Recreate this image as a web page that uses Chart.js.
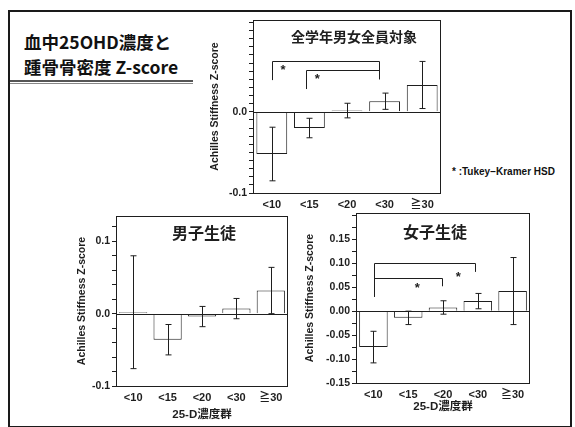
<!DOCTYPE html>
<html lang="ja">
<head>
<meta charset="utf-8">
<title>血中25OHD濃度と踵骨骨密度 Z-score</title>
<script src="https://cdn.jsdelivr.net/npm/chart.js@4.4.1/dist/chart.umd.min.js"></script>
<style>
  html, body { margin: 0; padding: 0; background: #fff; }
  body { position: relative; width: 575px; height: 427px; overflow: hidden; font-family: "Noto Sans CJK JP", sans-serif; color: #111; }
  #frame { position: absolute; left: 8px; top: 10px; width: 560px; height: 414px; border: 2px solid #1a1a1a; }
  #heading { position: absolute; left: 24px; top: 29px; font-size: 17.5px; font-weight: bold; line-height: 25px; white-space: nowrap; }
  #rule { position: absolute; left: 10px; top: 80px; width: 183px; height: 1px; border-top: 2px solid #555; border-bottom: 1px solid #888; }
  #note { position: absolute; left: 452px; top: 166px; font: bold 10px "Liberation Sans", Arial, sans-serif; white-space: nowrap; }
  canvas { position: absolute; }
</style>
</head>
<body>
<div id="frame"></div>
<div id="heading">血中25OHD濃度と<br>踵骨骨密度 Z-score</div>
<div id="rule"></div>
<div id="note">* :Tukey−Kramer HSD</div>
<canvas id="cAll" width="242" height="207" style="left:203px;top:8px"></canvas>
<canvas id="cBoy" width="226" height="219" style="left:66px;top:204px"></canvas>
<canvas id="cGirl" width="234" height="214" style="left:300px;top:201px"></canvas>
<script>
// 25-D concentration groups
const groups = ['<10', '<15', '<20', '<30', '≧30'];

// all students (mean, error bar half-length)
const allMean = [-0.052, -0.020, 0.0015, 0.013, 0.033];
const allErr = [0.033, 0.012, 0.009, 0.010, 0.029];
// boys
const boyMean = [0.002, -0.036, -0.004, 0.007, 0.032];
const boyErr = [0.078, 0.021, 0.014, 0.014, 0.032];
// girls
const girlMean = [-0.075, -0.014, 0.0077, 0.021, 0.042];
const girlErr = [0.033, 0.014, 0.014, 0.016, 0.070];

// labelled y ticks
const allTicks = [-0.1, 0.0];
const boyTicks = [-0.1, 0.0, 0.1];
const girlTicks = [-0.15, -0.10, -0.05, 0.00, 0.05, 0.10, 0.15];

// significance brackets: [from index, to index, bracket level, left end, right end]
const allBrackets = [[0, 2.85, 0.063, 0.039, 0.040], [0.9, 2.85, 0.051, 0.028, 0.040]];
const allStars = [[0.3, 0.054], [1.21, 0.044]];
const girlBrackets = [[0.02, 2.92, 0.100, 0.030, 0.082], [0.02, 1.96, 0.070, 0.030, 0.052]];
const girlStars = [[1.26, 0.054], [2.44, 0.077]];

const yTitle = 'Achilles Stiffness Z-score';
const xTitle = '25-D濃度群';

const ink = '#1e1e1e';
const latin = '"Liberation Sans", Arial, "Noto Sans CJK JP", sans-serif';

// frame, zero line, error bars, brackets, stars, inner title
const marks = {
    id: 'marks',
    afterDatasetsDraw(chart, args, o) {
        const { ctx, chartArea: a, scales: { x, y } } = chart;
        const means = chart.data.datasets[0].data;
        const seg = (x1, y1, x2, y2) => { ctx.beginPath(); ctx.moveTo(x1, y1); ctx.lineTo(x2, y2); ctx.stroke(); };
        ctx.save();
        ctx.strokeStyle = ink;
        ctx.lineWidth = 1;
        const y0 = Math.round(y.getPixelForValue(0)) + 0.5;
        seg(a.left, y0, a.right, y0);
        o.err.forEach((e, i) => {
            const px = Math.round(x.getPixelForValue(i)) + 0.5;
            const hi = y.getPixelForValue(means[i] + e), lo = y.getPixelForValue(means[i] - e);
            seg(px, hi, px, lo);
            seg(px - 3, hi, px + 3, hi);
            seg(px - 3, lo, px + 3, lo);
        });
        (o.brackets || []).forEach(([i1, i2, lvl, e1, e2]) => {
            const x1 = Math.round(x.getPixelForValue(i1)) + 0.5, x2 = Math.round(x.getPixelForValue(i2)) + 0.5;
            const yl = Math.round(y.getPixelForValue(lvl)) + 0.5;
            ctx.beginPath();
            ctx.moveTo(x1, y.getPixelForValue(e1));
            ctx.lineTo(x1, yl);
            ctx.lineTo(x2, yl);
            ctx.lineTo(x2, y.getPixelForValue(e2));
            ctx.stroke();
        });
        ctx.fillStyle = ink;
        ctx.textAlign = 'center';
        ctx.textBaseline = 'middle';
        ctx.font = 'bold 13px ' + latin;
        (o.stars || []).forEach(([i, v]) => ctx.fillText('*', x.getPixelForValue(i), y.getPixelForValue(v) + 3));
        ctx.strokeRect(Math.round(a.left) + 0.5, Math.round(a.top) + 0.5, Math.round(a.width) - 1, Math.round(a.height));
        ctx.font = `bold ${o.titleSize}px "Noto Sans CJK JP", sans-serif`;
        ctx.fillText(o.title, (a.left + a.right) / 2 + o.titleDx, a.top + o.titleDy);
        ctx.restore();
    }
};

function yScale(min, max, step, labels, dp, width, pad) {
    return {
        min, max,
        afterBuildTicks: s => {
            const t = [];
            for (let v = min; v <= max + 1e-9; v += step) t.push({ value: +v.toFixed(4) });
            s.ticks = t;
        },
        afterFit: s => { s.width = width; },
        grid: { drawOnChartArea: false, drawTicks: true, tickLength: 4, color: ink, tickColor: ink },
        border: { display: false },
        ticks: {
            autoSkip: false, padding: 2, color: ink,
            font: { family: latin, size: 10.5, weight: 'bold' },
            callback: v => labels.some(l => Math.abs(l - v) < 1e-6) ? v.toFixed(dp) : ''
        },
        title: { display: true, text: yTitle, color: ink, padding: { top: pad, bottom: 0 }, font: { family: latin, size: 10.5, weight: 'bold' } }
    };
}

function xScale(height, withTitle) {
    return {
        afterFit: s => { s.height = height; },
        grid: { display: false, drawTicks: false },
        border: { display: false },
        ticks: { padding: 5, color: ink, font: { family: latin, size: 11, weight: 'bold' } },
        title: { display: withTitle, text: xTitle, color: ink, padding: { top: 0, bottom: 1 }, font: { family: latin, size: 11.5, weight: 'bold' } }
    };
}

function makeChart(id, means, mk, x, y) {
    return new Chart(document.getElementById(id), {
        type: 'bar',
        data: {
            labels: groups,
            datasets: [{ data: means, backgroundColor: '#fff', borderColor: ink, borderWidth: 1, barPercentage: 0.82, categoryPercentage: 1 }]
        },
        options: {
            responsive: false,
            animation: false,
            layout: { padding: { top: 12, right: 4, left: 0, bottom: 0 } },
            plugins: { legend: { display: false }, tooltip: { enabled: false }, marks: mk },
            scales: { x, y }
        },
        plugins: [marks]
    });
}

makeChart('cAll', allMean,
    { err: allErr, brackets: allBrackets, stars: allStars, title: '全学年男女全員対象', titleSize: 14, titleDx: 7, titleDy: 17 },
    xScale(22, false), yScale(-0.1, 0.113, 0.01, allTicks, 1, 50, 5.7));

makeChart('cBoy', boyMean,
    { err: boyErr, title: '男子生徒', titleSize: 16, titleDx: 2, titleDy: 17 },
    xScale(37, true), yScale(-0.1, 0.135, 0.02, boyTicks, 1, 50, 9.4));

makeChart('cGirl', girlMean,
    { err: girlErr, brackets: girlBrackets, stars: girlStars, title: '女子生徒', titleSize: 16, titleDx: -8, titleDy: 19 },
    xScale(32, true), yScale(-0.15, 0.205, 0.025, girlTicks, 2, 56, 3.7));
</script>
</body>
</html>
